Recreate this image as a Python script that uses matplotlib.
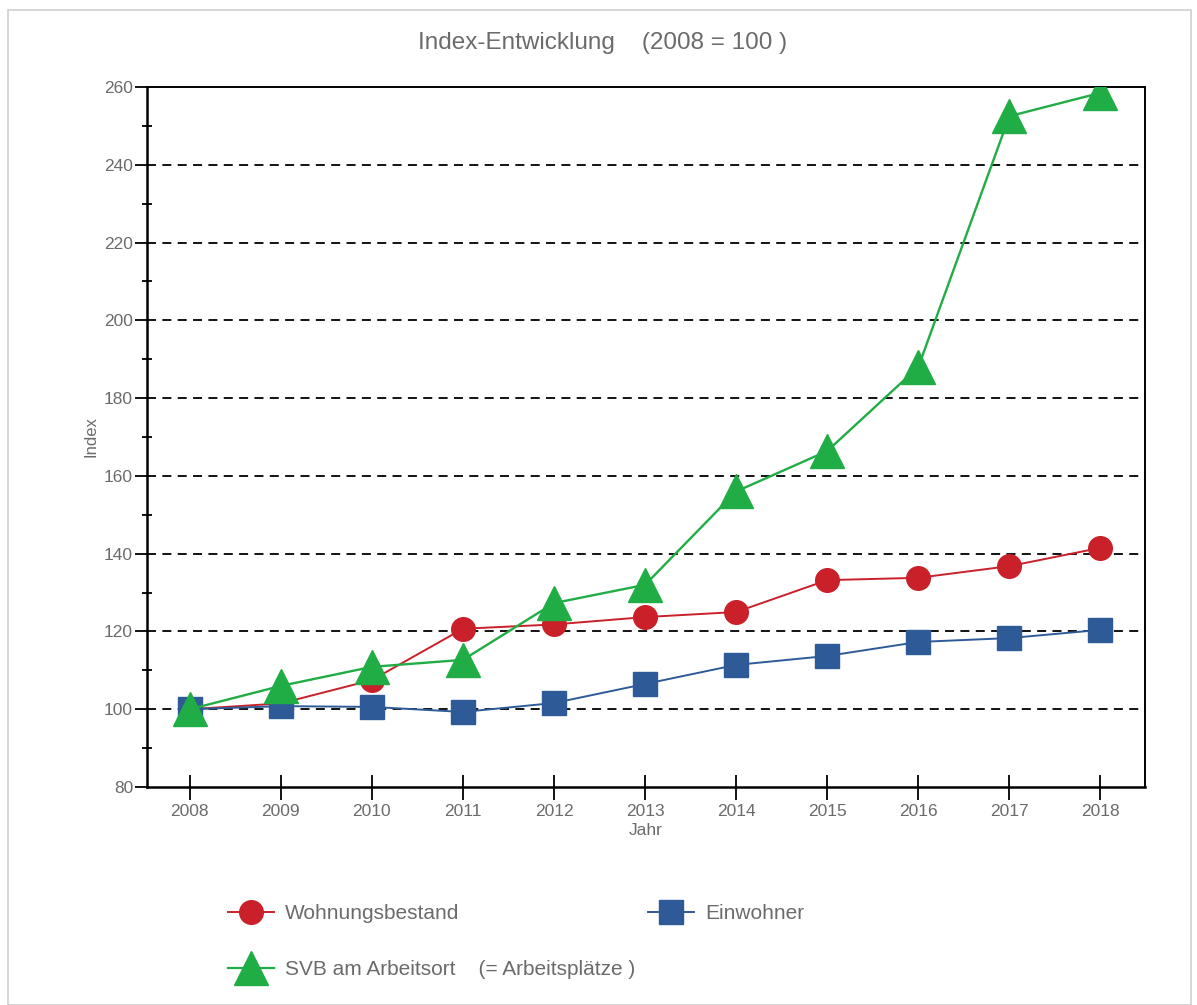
import matplotlib.pyplot as plt
from matplotlib.lines import Line2D
from matplotlib.patches import Rectangle
from matplotlib.ticker import MultipleLocator

jahre = [2008, 2009, 2010, 2011, 2012, 2013, 2014, 2015, 2016, 2017, 2018]
wohnungen = [100, 101.5, 107.5, 120.7, 121.8, 123.7, 125, 133.2, 133.8, 136.8, 141.5]
einwohner = [100, 100.8, 100.6, 99.3, 101.6, 106.5, 111.4, 113.7, 117.3, 118.3, 120.4]
svb = [100, 106, 110.9, 112.7, 127.3, 132, 156, 166.4, 188, 252.5, 258.5]

red = '#c9202a'
blue = '#2f5a98'
green = '#21ad45'
grey = '#6b6b6b'

plt.rcParams['font.family'] = ['Liberation Sans', 'DejaVu Sans']

fig = plt.figure(figsize=(11.97, 10.05), dpi=100)
fig.patches.append(Rectangle((0.007, 0.0), 0.988, 0.99, transform=fig.transFigure,
                             fill=False, edgecolor='#d0d0d0', linewidth=1.2))

ax = fig.add_axes([0.1228, 0.2169, 0.8338, 0.6965])

ax.plot(jahre, wohnungen, color=red, lw=1.4, marker='o', markersize=17, zorder=3)
ax.plot(jahre, einwohner, color=blue, lw=1.4, marker='s', markersize=17, zorder=4)
ax.plot(jahre, svb, color=green, lw=1.7, marker='^', markersize=25, zorder=5)

ax.set_xlim(2007.53, 2018.49)
ax.set_ylim(80, 260)
ax.set_xticks(jahre)
ax.yaxis.set_major_locator(MultipleLocator(20))
ax.yaxis.set_minor_locator(MultipleLocator(10))

for y in range(100, 260, 20):
    ax.axhline(y, color='black', lw=1.3, ls=(0, (5, 3.5)), zorder=1)

ax.tick_params(axis='x', direction='inout', length=18, width=1.3, labelsize=12.5,
               labelcolor=grey, pad=3)
ax.tick_params(axis='y', which='major', direction='out', length=9, width=1.3,
               labelsize=12.5, labelcolor=grey, pad=1)
ax.tick_params(axis='y', which='minor', direction='inout', length=7, width=1.3)

for s in ['left', 'bottom']:
    ax.spines[s].set_linewidth(1.8)
for s in ['top', 'right']:
    ax.spines[s].set_linewidth(1.4)

ax.set_xlabel('Jahr', color=grey, fontsize=12.5, labelpad=3)
ax.set_ylabel('Index', color=grey, fontsize=12, labelpad=4)

fig.text(603 / 1197, 1 - 43 / 1005, 'Index-Entwicklung    (2008 = 100 )',
         ha='center', va='center', fontsize=17.5, color=grey)

handles = [
    Line2D([], [], color=red, lw=1.4, marker='o', markersize=17),
    Line2D([], [], color=green, lw=1.6, marker='^', markersize=25),
    Line2D([], [], color=blue, lw=1.4, marker='s', markersize=17),
]
labels = ['Wohnungsbestand', 'SVB am Arbeitsort    (= Arbeitsplätze )', 'Einwohner']
leg = fig.legend(handles, labels, ncol=2, loc='upper left',
                 bbox_to_anchor=(228 / 1197, 1 - 904 / 1005), frameon=False, fontsize=15,
                 handlelength=2.2, labelspacing=1.78, columnspacing=0.6,
                 handletextpad=0.55, borderpad=0, borderaxespad=0)
for t in leg.get_texts():
    t.set_color(grey)

fig.savefig('out.png', dpi=100)
